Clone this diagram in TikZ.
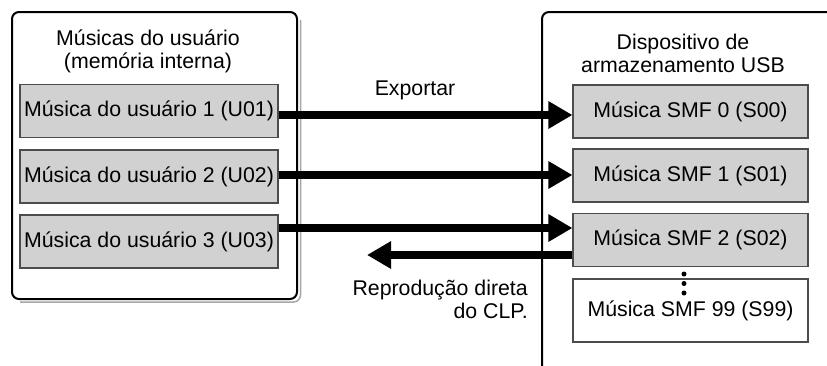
\documentclass[tikz,border=0pt]{standalone}
\usepackage{fontspec}
\setmainfont{Liberation Sans}
\usetikzlibrary{arrows.meta}
\begin{document}
\begin{tikzpicture}[x=1pt,y=-1pt,
  every node/.style={font=\fontsize{21.3}{23}\selectfont, inner sep=0pt},
  songbox/.style={draw=black!70, line width=1.1pt, fill=black!18, minimum height=53pt},
  userbox/.style={songbox, minimum width=258pt},
  smfbox/.style={songbox, minimum width=235pt},
  frame/.style={line width=2pt, rounded corners=7pt},
  bigarrow/.style={line width=8pt, -{Triangle[length=24pt,width=26pt]}},
  dotmark/.style={circle, fill=black, minimum size=5pt}
]
\useasboundingbox (0,0) rectangle (827,365);
% frames
\draw[black!35, line width=1.5pt, rounded corners=7pt] (300.5,20) -- (300.5,302) -- (20,302);
\draw[frame, fill=white] (12,12) rectangle (297,299);
\draw[frame] (542,366) -- (542,12) -- (828,12);
% headers
\node[align=center] (lh) at (148,51.5) {Músicas do usuário\\(memória interna)};
\node[align=center] (rh) at (683,53) {Dispositivo de\\armazenamento USB};
% boxes
\node[userbox] (u1) at (149,111) {Música do usuário 1 (U01)};
\node[userbox] (u2) at (149,176.5) {Música do usuário 2 (U02)};
\node[userbox] (u3) at (149,241.5) {Música do usuário 3 (U03)};
\node[smfbox] (s0) at (690.5,111.5) {Música SMF 0 (S00)};
\node[smfbox] (s1) at (690.5,175.5) {Música SMF 1 (S01)};
\node[smfbox] (s2) at (690.5,240) {Música SMF 2 (S02)};
\node[smfbox, fill=white, minimum height=63pt] (s99) at (690.5,310.5) {Música SMF 99 (S99)};
% dots
\node[dotmark] (d1) at (684,274) {};
\node[dotmark] (d2) at (684,283.5) {};
\node[dotmark] (d3) at (684,293) {};
% arrows
\draw[bigarrow] ([yshift=-4pt]u1.east) -- ([yshift=-3.5pt]s0.west);
\draw[bigarrow] ([yshift=1.5pt]u2.east) -- ([yshift=0.5pt]s1.west);
\draw[bigarrow] ([yshift=13.5pt]u3.east) -- ([yshift=12pt]s2.west);
\coordinate (bt) at (367,255);
\draw[bigarrow] ([yshift=-15pt]s2.west) -- (bt);
% labels
\node (exp) at (415,90) {Exportar};
\node[align=right, anchor=east] (rep) at (528,299.5) {Reprodução direta\\do CLP.};
\end{tikzpicture}
\end{document}
